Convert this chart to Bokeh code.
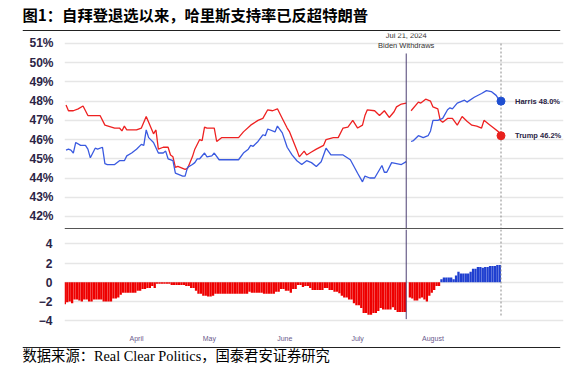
import math
from datetime import datetime, timedelta
import pandas as pd
from bokeh.plotting import figure
from bokeh.layouts import column
from bokeh.models import Range1d, FixedTicker, PrintfTickFormatter, Span, Label
from bokeh.core.properties import value
from bokeh.embed import file_html
from bokeh.resources import INLINE

# ---------------- data ----------------
TITLE = "图1：自拜登退选以来，哈里斯支持率已反超特朗普"
SOURCE = "数据来源：Real Clear Politics，国泰君安证券研究"
EVENT_DATE = "2024-07-21"
EVENT_LABELS = ["Jul 21, 2024", "Biden Withdraws"]
MONTH_TICKS = ["2024-04-01", "2024-05-01", "2024-06-01", "2024-07-01", "2024-08-01"]
MONTH_LABELS = ["April", "May", "June", "July", "August"]
PCT_TICKS = [42, 43, 44, 45, 46, 47, 48, 49, 50, 51]
SPREAD_TICKS = [-4, -2, 0, 2, 4]
NAN = float("nan")

TRUMP_DATES = [
    "2024-03-03", "2024-03-04", "2024-03-06", "2024-03-08", "2024-03-10", "2024-03-12", "2024-03-17",
    "2024-03-19", "2024-03-23", "2024-03-25", "2024-03-26", "2024-03-27", "2024-03-28", "2024-04-01",
    "2024-04-03", "2024-04-05", "2024-04-06", "2024-04-08", "2024-04-09", "2024-04-10", "2024-04-12",
    "2024-04-14", "2024-04-15", "2024-04-16", "2024-04-17", "2024-04-18", "2024-04-19", "2024-04-21",
    "2024-04-22", "2024-04-24", "2024-04-25", "2024-04-27", "2024-04-28", "2024-04-29", "2024-04-30",
    "2024-05-03", "2024-05-04", "2024-05-06", "2024-05-13", "2024-05-15", "2024-05-18", "2024-05-21",
    "2024-05-23", "2024-05-25", "2024-05-27", "2024-05-29", "2024-05-31", "2024-06-02", "2024-06-03",
    "2024-06-06", "2024-06-07", "2024-06-09", "2024-06-10", "2024-06-12", "2024-06-14", "2024-06-17",
    "2024-06-18", "2024-06-21", "2024-06-23", "2024-06-25", "2024-06-27", "2024-06-29", "2024-07-01",
    "2024-07-03", "2024-07-04", "2024-07-05", "2024-07-08", "2024-07-10", "2024-07-12", "2024-07-14",
    "2024-07-16", "2024-07-17", "2024-07-19", "2024-07-21", "2024-07-22", "2024-07-23", "2024-07-26",
    "2024-07-27", "2024-07-29", "2024-07-31", "2024-08-01", "2024-08-03", "2024-08-04", "2024-08-05",
    "2024-08-07", "2024-08-09", "2024-08-11", "2024-08-13", "2024-08-15", "2024-08-17", "2024-08-19",
    "2024-08-21", "2024-08-22", "2024-08-24", "2024-08-26", "2024-08-28", "2024-08-29",
]
TRUMP_VALUES = [
    47.8, 47.5, 47.5, 47.6, 47.75, 47.25, 47.25,
    46.75, 46.6, 46.6, 46.45, 46.7, 46.5, 46.5,
    46.6, 47.2, 46.9, 46.3, 46.5, 45.5, 45.6,
    45.6, 45.2, 45.1, 44.55, 44.6, 44.55, 44.45,
    44.5, 45.1, 45.5, 46.0, 45.95, 46.65, 46.6,
    46.6, 45.9, 46.1, 46.1, 46.4, 46.75, 47.0,
    47.1, 47.55, 47.5, 47.6, 47.1, 46.6, 46.4,
    45.45, 45.1, 45.4, 45.2, 45.35, 45.5, 45.7,
    46.0, 46.1, 46.1, 46.6, 46.65, 47.0, 46.6,
    46.75, 47.25, 47.55, 47.5, 47.25, 47.5, 47.15,
    47.45, 47.7, 47.85, 47.9, NAN, 47.5, 47.95,
    47.9, 48.1, 48.0, 47.7, 47.6, 47.0, 46.9,
    47.1, 47.1, 46.75, 47.2, 46.95, 46.75, 46.7,
    46.6, 47.0, 46.8, 46.6, 46.4, 46.2,
]

DEM_DATES = [
    "2024-03-03", "2024-03-04", "2024-03-05", "2024-03-06", "2024-03-07", "2024-03-09", "2024-03-11",
    "2024-03-12", "2024-03-13", "2024-03-15", "2024-03-16", "2024-03-18", "2024-03-19", "2024-03-20",
    "2024-03-23", "2024-03-25", "2024-03-27", "2024-03-28", "2024-03-30", "2024-04-01", "2024-04-03",
    "2024-04-04", "2024-04-05", "2024-04-06", "2024-04-08", "2024-04-10", "2024-04-12", "2024-04-13",
    "2024-04-14", "2024-04-16", "2024-04-17", "2024-04-18", "2024-04-20", "2024-04-21", "2024-04-22",
    "2024-04-24", "2024-04-25", "2024-04-26", "2024-04-27", "2024-04-29", "2024-04-30", "2024-05-02",
    "2024-05-03", "2024-05-05", "2024-05-13", "2024-05-15", "2024-05-17", "2024-05-18", "2024-05-19",
    "2024-05-21", "2024-05-23", "2024-05-24", "2024-05-25", "2024-05-28", "2024-05-29", "2024-05-31",
    "2024-06-02", "2024-06-04", "2024-06-06", "2024-06-08", "2024-06-10", "2024-06-12", "2024-06-14",
    "2024-06-16", "2024-06-18", "2024-06-20", "2024-06-25", "2024-06-28", "2024-07-01", "2024-07-03",
    "2024-07-04", "2024-07-06", "2024-07-08", "2024-07-11", "2024-07-12", "2024-07-13", "2024-07-15",
    "2024-07-17", "2024-07-19", "2024-07-21", "2024-07-22", "2024-07-23", "2024-07-24", "2024-07-26",
    "2024-07-28", "2024-07-30", "2024-07-31", "2024-08-01", "2024-08-03", "2024-08-05", "2024-08-07",
    "2024-08-08", "2024-08-09", "2024-08-11", "2024-08-14", "2024-08-15", "2024-08-18", "2024-08-21",
    "2024-08-23", "2024-08-25", "2024-08-27", "2024-08-28", "2024-08-29",
]
DEM_VALUES = [
    45.45, 45.5, 45.45, 45.3, 45.85, 45.7, 45.7,
    45.5, 45.05, 45.55, 45.5, 45.6, 44.75, 44.7,
    44.7, 44.9, 44.9, 45.15, 45.3, 45.5, 45.75,
    45.7, 46.5, 46.1, 45.85, 45.3, 45.3, 45.4,
    45.0, 44.9, 44.25, 44.2, 44.1, 44.1, 44.55,
    44.7, 44.8, 45.0, 45.0, 45.3, 45.1, 45.15,
    45.3, 44.95, 44.95, 45.3, 45.5, 45.7, 45.65,
    45.9, 46.25, 46.2, 46.55, 46.4, 46.7, 46.35,
    45.6, 45.2, 44.9, 44.7, 44.9, 44.8, 44.6,
    44.85, 45.55, 45.2, 45.2, 44.95, 44.25, 43.8,
    44.1, 44.0, 44.0, 44.65, 44.3, 44.3, 44.8,
    44.75, 44.7, 44.85, NAN, 45.9, 45.95, 46.2,
    46.1, 46.2, 46.45, 47.0, 47.0, 47.1, 47.55,
    47.65, 47.6, 47.9, 48.05, 47.95, 48.2, 48.4,
    48.55, 48.5, 48.3, 48.1, 48.0,
]

# daily spread (Harris/Biden minus Trump), 2024-03-03 .. 2024-08-29
SPREAD_START = "2024-03-03"
SPREAD_END = "2024-08-29"
SPREAD = [
    -2.3, -2.1, -2.0, -2.2, -1.8, -1.8, -1.9, -2.0, -1.8, -1.8,
    -2.0, -2.0, -1.8, -1.8, -1.8, -1.8, -2.0, -2.0, -2.0, -2.0,
    -1.7, -1.7, -1.6, -1.3, -1.1, -1.1, -1.1, -1.1, -1.1, -1.1,
    -0.9, -0.9, -0.7, -0.7, -0.6, -0.6, -0.4, -0.6, -0.15, -0.15,
    -0.15, -0.15, -0.15, -0.15, -0.3, -0.3, -0.3, -0.3, -0.3, -0.3,
    -0.4, -0.4, -0.6, -0.6, -0.9, -1.2, -1.2, -1.4, -1.4, -1.5,
    -1.5, -1.4, -1.2, -1.2, -1.2, -1.2, -1.2, -1.2, -1.2, -1.2,
    -1.2, -1.2, -1.2, -1.2, -1.2, -1.2, -1.0, -1.1, -1.1, -1.1,
    -1.1, -1.1, -1.2, -1.2, -1.2, -1.2, -1.2, -1.0, -1.0, -0.7,
    -0.7, -0.9, -0.9, -1.1, -0.7, -0.7, -0.3, -0.3, -0.5, -0.4,
    -0.4, -0.6, -0.8, -0.8, -0.8, -0.8, -0.8, -0.6, -0.6, -0.8,
    -0.8, -1.0, -1.0, -1.15, -1.4, -1.6, -1.6, -1.8, -1.8, -2.2,
    -2.4, -2.4, -2.7, -3.2, -3.2, -3.4, -3.4, -3.2, -3.2, -3.0,
    -2.7, -2.85, -2.85, -2.85, -2.85, -2.6, -2.9, -3.1, -3.1, -3.1,
    -3.1, NAN, -1.6, -1.7, -1.9, -1.9, -1.7, -1.6, -1.8, -2.0,
    -1.4, -1.1, -0.8, -0.4, -0.4, 0.3, 0.5, 0.5, 0.5, 0.5,
    0.3, 0.7, 1.1, 0.9, 0.9, 0.9, 0.9, 1.1, 1.4, 1.4,
    1.6, 1.6, 1.5, 1.6, 1.6, 1.7, 1.7, 1.7, 1.8, 1.8,
]

assert len(TRUMP_DATES) == len(TRUMP_VALUES)
assert len(DEM_DATES) == len(DEM_VALUES)

# ---------------- styling ----------------
W = 570
LEFT = 64
RIGHT = 7
RED = "#ee2121"
BLUE = "#3a5ae0"
BAR_RED = "#ee0000"
BAR_BLUE = "#1f3fd0"
LABEL_COLOR = "#2b2445"
GRID = "#e6e6e6"
EVENT_COLOR = "#4b3f72"
SANS = "Liberation Sans"
CJK = "'Noto Sans CJK SC'"
SERIF_MIX = "'Liberation Serif', 'Noto Sans CJK SC'"

DAY = timedelta(days=1)
x_start = datetime(2024, 4, 1) - timedelta(days=29.63)
x_end = x_start + timedelta(days=205.35)
shared_x = Range1d(start=x_start, end=x_end)

PCT_MIN, PCT_MAX = 41.32, 51.52
SP_MIN, SP_MAX = -4.2, 5.5

trump_dt = pd.to_datetime(TRUMP_DATES)
dem_dt = pd.to_datetime(DEM_DATES)
event_dt = pd.Timestamp(EVENT_DATE)
last_dt = pd.Timestamp(DEM_DATES[-1])

# ---------------- title strip ----------------
tf = figure(width=W, height=32, x_range=Range1d(0, 1), y_range=Range1d(0, 1),
            x_axis_type=None, y_axis_type=None, toolbar_location=None,
            output_backend="svg", min_border_left=22, min_border_right=10,
            min_border_top=0, min_border_bottom=0, outline_line_color=None)
tf.add_layout(Label(x=0, y=0.59, text=TITLE, text_font=CJK, text_font_size="15.3px",
                    text_font_style="bold", text_baseline="middle", text_color="#000000"))
tf.add_layout(Span(location=0.0625, dimension="width", line_color="#222222", line_width=1.2))

# ---------------- top chart ----------------
top = figure(width=W, height=197, x_range=shared_x, y_range=Range1d(PCT_MIN, PCT_MAX),
             x_axis_type="datetime", x_axis_location=None, toolbar_location=None,
             output_backend="svg", min_border_left=LEFT, min_border_right=RIGHT,
             min_border_top=1, min_border_bottom=0, outline_line_color=None)
top.xgrid.visible = False
top.yaxis.ticker = FixedTicker(ticks=PCT_TICKS)
top.yaxis.formatter = PrintfTickFormatter(format="%d%%")
top.yaxis.axis_line_color = None
top.yaxis.major_tick_line_color = None
top.yaxis.minor_tick_line_color = None
top.yaxis.major_label_standoff = 5
top.yaxis.major_label_text_font = SANS
top.yaxis.major_label_text_font_style = "bold"
top.yaxis.major_label_text_font_size = "12px"
top.yaxis.major_label_text_color = LABEL_COLOR
top.ygrid.ticker = FixedTicker(ticks=PCT_TICKS)
top.ygrid.grid_line_color = GRID
top.ygrid.grid_line_width = 1.5

top.line(trump_dt, TRUMP_VALUES, line_color=RED, line_width=1.3)
top.line(dem_dt, DEM_VALUES, line_color=BLUE, line_width=1.3)

top.segment(x0=[event_dt], y0=[PCT_MIN], x1=[event_dt], y1=[50.48],
            line_color=EVENT_COLOR, line_width=1)
top.segment(x0=[last_dt], y0=[PCT_MIN], x1=[last_dt], y1=[51.0],
            line_color="#8a8a8a", line_width=1, line_dash="2 2")
top.add_layout(Label(x=event_dt, y=51.42, text=EVENT_LABELS[0], text_align="center",
                     text_baseline="middle", text_font=SANS, text_font_size="7.5px",
                     text_color="#333333"))
top.add_layout(Label(x=event_dt, y=50.87, text=EVENT_LABELS[1], text_align="center",
                     text_baseline="middle", text_font=SANS, text_font_size="7.5px",
                     text_color="#333333"))
top.add_layout(Span(location=PCT_MIN + 0.04, dimension="width", line_color="#555555",
                    line_width=1.5))

top.scatter([last_dt], [DEM_VALUES[-1]], size=8, fill_color="#1f4fd1", line_color="#1f4fd1")
top.scatter([last_dt], [TRUMP_VALUES[-1]], size=8, fill_color="#e8211d", line_color="#e8211d")
top.text(x=[last_dt, last_dt], y=[DEM_VALUES[-1], TRUMP_VALUES[-1]],
         text=[f"Harris {DEM_VALUES[-1]:.1f}%", f"Trump {TRUMP_VALUES[-1]:.1f}%"],
         x_offset=14, text_baseline="middle", text_align="left",
         text_font=value(SANS), text_font_style="bold", text_font_size="7.5px",
         text_color=LABEL_COLOR)

# ---------------- bottom chart ----------------
bot = figure(width=W, height=115, x_range=shared_x, y_range=Range1d(SP_MIN, SP_MAX),
             x_axis_type="datetime", toolbar_location=None, output_backend="svg",
             min_border_left=LEFT, min_border_right=RIGHT, min_border_top=0,
             min_border_bottom=18, outline_line_color=None)
bot.xgrid.visible = False
bot.ygrid.ticker = FixedTicker(ticks=SPREAD_TICKS)
bot.ygrid.grid_line_color = GRID
bot.ygrid.grid_line_width = 1.5
bot.yaxis.ticker = FixedTicker(ticks=SPREAD_TICKS)
bot.yaxis.axis_line_color = None
bot.yaxis.major_tick_line_color = None
bot.yaxis.minor_tick_line_color = None
bot.yaxis.major_label_standoff = 6
bot.yaxis.major_label_text_font = SANS
bot.yaxis.major_label_text_font_style = "bold"
bot.yaxis.major_label_text_font_size = "12px"
bot.yaxis.major_label_text_color = LABEL_COLOR

month_ms = [int(pd.Timestamp(d).value // 10**6) for d in MONTH_TICKS]
bot.xaxis.ticker = FixedTicker(ticks=month_ms)
bot.xaxis.major_label_overrides = {m: lab for m, lab in zip(month_ms, MONTH_LABELS)}
bot.xaxis.axis_line_color = None
bot.xaxis.major_tick_line_color = None
bot.xaxis.minor_tick_line_color = None
bot.xaxis.major_label_standoff = 6
bot.xaxis.major_label_text_font = SANS
bot.xaxis.major_label_text_font_size = "7px"
bot.xaxis.major_label_text_color = "#6a5a8c"

spread_dates = pd.date_range(SPREAD_START, SPREAD_END, freq="D")
assert len(spread_dates) == len(SPREAD)
bx, btop, bcol = [], [], []
for d, v in zip(spread_dates, SPREAD):
    if math.isnan(v):
        continue
    bx.append(d - DAY / 2)
    btop.append(v)
    bcol.append(BAR_BLUE if v > 0 else BAR_RED)
bot.vbar(x=bx, top=btop, bottom=0, width=0.95 * 86400000, fill_color=bcol, line_color=None)

bot.segment(x0=[event_dt], y0=[SP_MAX], x1=[event_dt], y1=[-3.85],
            line_color=EVENT_COLOR, line_width=1)
bot.segment(x0=[last_dt], y0=[SP_MAX], x1=[last_dt], y1=[-3.6],
            line_color="#8a8a8a", line_width=1, line_dash="2 2")

# ---------------- source strip ----------------
ff = figure(width=W, height=24, x_range=Range1d(0, 1), y_range=Range1d(0, 1),
            x_axis_type=None, y_axis_type=None, toolbar_location=None,
            output_backend="svg", min_border_left=22, min_border_right=10,
            min_border_top=0, min_border_bottom=0, outline_line_color=None)
ff.add_layout(Span(location=0.875, dimension="width", line_color="#222222", line_width=1.2))
ff.add_layout(Label(x=0, y=0.54, text=SOURCE, text_font=SERIF_MIX, text_font_size="14.3px",
                    text_baseline="middle", text_color="#000000"))

charts = column(top, bot, spacing=0)
open("out.html", "w").write(file_html([tf, charts, ff], INLINE))
